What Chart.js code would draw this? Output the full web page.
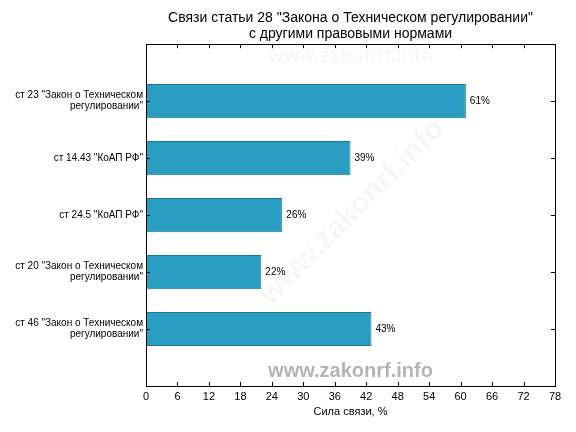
<!DOCTYPE html>
<html>
<head>
<meta charset="utf-8">
<script src="https://cdn.jsdelivr.net/npm/chart.js@4.4.1/dist/chart.umd.min.js"></script>
<style>
  html, body { margin: 0; padding: 0; background: #fff; }
  #wrap { width: 576px; height: 432px; }
</style>
</head>
<body>
<div id="wrap"><canvas id="svyaziChart" width="576" height="432"></canvas></div>
<script>
// Данные графика
const kategorii = [
    ['ст 23 "Закон о Техническом', 'регулировании"'],
    'ст 14.43 "КоАП РФ"',
    'ст 24.5 "КоАП РФ"',
    ['ст 20 "Закон о Техническом', 'регулировании"'],
    ['ст 46 "Закон о Техническом', 'регулировании"']
];
const silaSvyazi = [61, 39, 26, 22, 43];
const xTiki = [0, 6, 12, 18, 24, 30, 36, 42, 48, 54, 60, 66, 72, 78];

const SHRIFT = '"Liberation Sans", Arial, sans-serif';

// пустые позиции сверху и снизу, как в оригинале
const metki = [''].concat(kategorii, ['']);
const znacheniya = [null].concat(silaSvyazi, [null]);

// водяные знаки, рамка, тики внутрь и подписи значений
const oformlenie = {
    id: 'oformlenie',
    beforeDatasetsDraw(chart) {
        const ctx = chart.ctx;
        const a = chart.chartArea;
        ctx.save();
        ctx.textAlign = 'center';
        ctx.textBaseline = 'middle';
        ctx.font = 'bold 20px ' + SHRIFT;
        ctx.fillStyle = '#f8f8f8';
        ctx.fillText('www.zakonrf.info', (a.left + a.right) / 2, a.top + 12);
        ctx.translate((a.left + a.right) / 2 + 2, a.top + 168);
        ctx.rotate(-Math.PI / 4);
        ctx.font = 'bold 30px ' + SHRIFT;
        ctx.fillStyle = '#f6f6f6';
        ctx.fillText('www.zakonrf.info', 0, 0);
        ctx.restore();
    },
    afterDatasetsDraw(chart) {
        const ctx = chart.ctx;
        const meta = chart.getDatasetMeta(0);
        ctx.save();
        ctx.font = '10px ' + SHRIFT;
        ctx.fillStyle = '#000';
        ctx.textAlign = 'left';
        ctx.textBaseline = 'middle';
        meta.data.forEach((bar, i) => {
            const v = znacheniya[i];
            if (v === null) return;
            ctx.fillText(v + '%', bar.x + 4, bar.y);
        });
        ctx.restore();
    },
    afterDraw(chart) {
        const ctx = chart.ctx;
        const a = chart.chartArea;
        const sx = chart.scales.x;
        const sy = chart.scales.y;
        ctx.save();
        // нижний водяной знак
        ctx.font = 'bold 20px ' + SHRIFT;
        ctx.fillStyle = '#b4b4b4';
        ctx.textAlign = 'center';
        ctx.textBaseline = 'middle';
        ctx.fillText('www.zakonrf.info', (a.left + a.right) / 2, a.bottom - 15);

        ctx.strokeStyle = '#000';
        ctx.lineWidth = 1;
        ctx.beginPath();
        xTiki.forEach(t => {
            const px = Math.round(sx.getPixelForValue(t)) + 0.5;
            ctx.moveTo(px, a.bottom);
            ctx.lineTo(px, a.bottom - 4);
            ctx.moveTo(px, a.top);
            ctx.lineTo(px, a.top + 4);
        });
        metki.forEach((m, i) => {
            const py = Math.round(sy.getPixelForValue(i)) + 0.5;
            ctx.moveTo(a.left, py);
            ctx.lineTo(a.left + 4, py);
            ctx.moveTo(a.right, py);
            ctx.lineTo(a.right - 4, py);
        });
        ctx.stroke();
        ctx.strokeRect(Math.round(a.left) + 0.5, Math.round(a.top) + 0.5,
            Math.round(a.right - a.left), Math.round(a.bottom - a.top));
        ctx.restore();
    }
};

const ctx = document.getElementById('svyaziChart').getContext('2d');
const grafik = new Chart(ctx, {
    type: 'bar',
    data: {
        labels: metki,
        datasets: [{
            data: znacheniya,
            backgroundColor: '#2a9dc3',
            borderColor: '#1b7694',
            borderWidth: 1,
            barPercentage: 0.6,
            categoryPercentage: 1
        }]
    },
    options: {
        indexAxis: 'y',
        responsive: false,
        animation: false,
        devicePixelRatio: 1,
        layout: { padding: { left: 0, right: 21, top: 0, bottom: 0 } },
        plugins: {
            legend: { display: false },
            tooltip: { enabled: false },
            title: {
                display: true,
                fullSize: false,
                text: ['Связи статьи 28 "Закона о Техническом регулировании"', 'с другими правовыми нормами'],
                color: '#000',
                font: { family: SHRIFT, size: 14, weight: 'normal', lineHeight: 1.15 },
                padding: { top: 10, bottom: 2 }
            }
        },
        scales: {
            x: {
                type: 'linear',
                min: 0,
                max: 78,
                afterBuildTicks(scale) {
                    scale.ticks = xTiki.map(v => ({ value: v }));
                },
                afterFit(scale) { scale.height = 46; },
                grid: { display: false, drawTicks: false },
                border: { display: false },
                ticks: {
                    color: '#000',
                    padding: 4,
                    maxRotation: 0,
                    autoSkip: false,
                    font: { family: SHRIFT, size: 11 }
                },
                title: {
                    display: true,
                    text: 'Сила связи, %',
                    color: '#000',
                    font: { family: SHRIFT, size: 11 },
                    padding: { top: 0, bottom: 13 }
                }
            },
            y: {
                type: 'category',
                offset: false,
                afterFit(scale) { scale.width = 146; },
                grid: { display: false, drawTicks: false },
                border: { display: false },
                ticks: {
                    color: '#000',
                    padding: 3,
                    autoSkip: false,
                    font: { family: SHRIFT, size: 10, lineHeight: 1.1 }
                }
            }
        }
    },
    plugins: [oformlenie]
});
</script>
</body>
</html>
